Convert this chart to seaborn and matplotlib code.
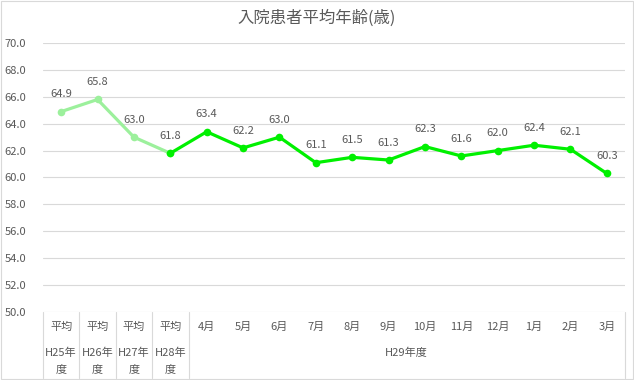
import matplotlib
matplotlib.use('Agg')
import matplotlib.pyplot as plt
import seaborn as sns
import pandas as pd
from matplotlib.patches import Rectangle

# ---- data ----
title = '入院患者平均年齢(歳)'
categories = ['平均', '平均', '平均', '平均', '4月', '5月', '6月', '7月', '8月', '9月',
              '10月', '11月', '12月', '1月', '2月', '3月']
year_labels = ['H25年', 'H26年', 'H27年', 'H28年']
year_suffix = ['度', '度', '度', '度']
month_group = 'H29年度'
values = [64.9, 65.8, 63.0, 61.8, 63.4, 62.2, 63.0, 61.1, 61.5, 61.3,
          62.3, 61.6, 62.0, 62.4, 62.1, 60.3]
yticks = [50.0, 52.0, 54.0, 56.0, 58.0, 60.0, 62.0, 64.0, 66.0, 68.0, 70.0]

sns.set_theme(style='white')
plt.rcParams['font.family'] = ['Noto Sans CJK JP', 'DejaVu Sans']

TXT = '#595959'
GRID = '#D9D9D9'
LIGHT = '#9CF09C'
BRIGHT = '#00F000'
FS = 8

df = pd.DataFrame({'x': list(range(len(values))), 'v': values})
past = df.iloc[:4]
cur = df.iloc[3:]

W, H = 634, 380
fig = plt.figure(figsize=(W / 100, H / 100), dpi=100)
ax = fig.add_axes([43 / W, 1 - 312 / H, (625 - 43) / W, (312 - 43) / H])

for y in yticks:
    ax.axhline(y, color=GRID, lw=0.8, zorder=0)

sns.lineplot(data=past, x='x', y='v', ax=ax, color=LIGHT, lw=2.3, marker='o',
             markersize=5.5, markeredgewidth=0, zorder=3)
sns.lineplot(data=cur, x='x', y='v', ax=ax, color=BRIGHT, lw=2.3, marker='o',
             markersize=5.5, markeredgewidth=0, zorder=4)

for i, v in enumerate(values):
    ax.annotate(f'{v:.1f}', (i, v), xytext=(0, 12.5), textcoords='offset points',
                ha='center', va='center', fontsize=FS, color=TXT)

ax.set_xlim(-0.5, len(values) - 0.5)
ax.set_ylim(yticks[0], yticks[-1])
ax.set_yticks(yticks)
ax.set_yticklabels([f'{t:.1f}' for t in yticks], fontsize=FS, color=TXT)
ax.tick_params(axis='y', length=0, pad=12)
ax.set_xticks([])
ax.set_xlabel('')
ax.set_ylabel('')
for s in ax.spines.values():
    s.set_visible(False)

# multi-level category axis
ah = 312 - 43
def fy(py):
    return (312 - py) / ah

tr = ax.get_xaxis_transform()
for i, c in enumerate(categories):
    ax.text(i, fy(327), c, transform=tr, ha='center', va='center', fontsize=FS, color=TXT)
for i, (a, b) in enumerate(zip(year_labels, year_suffix)):
    ax.text(i, fy(353), a, transform=tr, ha='center', va='center', fontsize=FS, color=TXT)
    ax.text(i, fy(369), b, transform=tr, ha='center', va='center', fontsize=FS, color=TXT)
ax.text((4 + len(values) - 1) / 2, fy(353), month_group, transform=tr,
        ha='center', va='center', fontsize=FS, color=TXT)

for xs in [-0.5, 0.5, 1.5, 2.5, 3.5, len(values) - 0.5]:
    ax.plot([xs, xs], [0, fy(378)], transform=tr, color=GRID, lw=0.8, clip_on=False)

fig.text(0.5, 1 - 18 / H, title, ha='center', va='center', fontsize=11.8, color=TXT)
fig.patches.append(Rectangle((0.5 / W, 1.5 / H), (W - 2) / W, (H - 2.5) / H, fill=False,
                             edgecolor=GRID, lw=0.8, transform=fig.transFigure))

fig.savefig('out.png', dpi=100)
